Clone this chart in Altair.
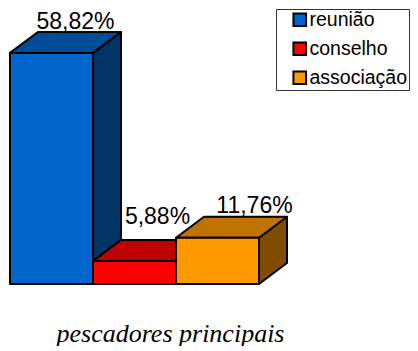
import altair as alt
import pandas as pd

names = ["reunião", "conselho", "associação"]
values = [58.82, 5.88, 11.76]
labels = ["58,82%", "5,88%", "11,76%"]
front = ["#0066CC", "#FF0000", "#FF9900"]
top = ["#004C99", "#BF0000", "#BF7300"]
side = ["#003366", "#800000", "#804C00"]
depth_x = 0.337
depth_y = 5.34
label_shift = [(10, -3), (9, -16), (23, -4)]

x_scale = alt.Scale(domain=[-0.024, 4.819], nice=False, zero=False)
y_scale = alt.Scale(domain=[0, 70.0], nice=False, zero=False)
x_axis = alt.Axis(
    title="pescadores principais", labels=False, ticks=False, grid=False, domain=False,
    titleFont="Liberation Serif", titleFontStyle="italic", titleFontWeight="normal",
    titleFontSize=26, titleColor="#000000", titleX=162, titleY=36, titleAnchor="middle")
stroke = dict(stroke="#000000", strokeWidth=2, strokeJoin="round")

layers = []
for i, (name, v) in enumerate(zip(names, values)):
    front_df = pd.DataFrame({"name": [name], "a": [i], "b": [i + 1], "v": [v], "z": [0]})
    side_df = pd.DataFrame({"x": [i + 1, i + 1 + depth_x], "lo": [0, depth_y], "hi": [v, v + depth_y]})
    top_df = pd.DataFrame({"y": [v, v + depth_y], "l": [i, i + depth_x], "r": [i + 1, i + 1 + depth_x]})
    label_df = pd.DataFrame({"x": [i + 0.5 + depth_x / 2], "y": [v + depth_y], "t": [labels[i]]})

    layers.append(alt.Chart(side_df).mark_area(color=side[i], **stroke).encode(
        x=alt.X("x:Q", scale=x_scale, axis=x_axis),
        y=alt.Y("lo:Q", scale=y_scale, axis=None),
        y2="hi:Q"))
    layers.append(alt.Chart(top_df).mark_area(color=top[i], orient="horizontal", **stroke).encode(
        y=alt.Y("y:Q", scale=y_scale, axis=None),
        x=alt.X("l:Q", scale=x_scale, axis=x_axis),
        x2="r:Q"))
    layers.append(alt.Chart(front_df).mark_rect(**stroke).encode(
        x=alt.X("a:Q", scale=x_scale, axis=x_axis),
        x2="b:Q",
        y=alt.Y("z:Q", scale=y_scale, axis=None),
        y2="v:Q",
        color=alt.Color("name:N", scale=alt.Scale(domain=names, range=front), legend=alt.Legend(
            title=None, orient="none", legendX=268, legendY=0, padding=1,
            strokeColor="#333333", fillColor="#FFFFFF",
            symbolType="square", symbolSize=160, symbolStrokeColor="#000000", symbolStrokeWidth=2,
            symbolOffset=13, labelOffset=0, labelFont="Liberation Sans", labelFontSize=19.5,
            labelExpr="datum.label + '\\u00a0'",
            labelColor="#000000", rowPadding=7, labelLimit=200))))
    layers.append(alt.Chart(label_df).mark_text(
        font="Liberation Sans", fontSize=23, color="#000000", baseline="alphabetic",
        dx=label_shift[i][0], dy=label_shift[i][1]).encode(
        x=alt.X("x:Q", scale=x_scale, axis=x_axis),
        y=alt.Y("y:Q", scale=y_scale, axis=None),
        text="t:N"))

chart = alt.layer(*layers).resolve_scale(color="shared").properties(
    width=402, height=275, padding=0
).configure_view(stroke=None)

chart.save("out.html", embed_options={"renderer": "svg", "actions": False})
